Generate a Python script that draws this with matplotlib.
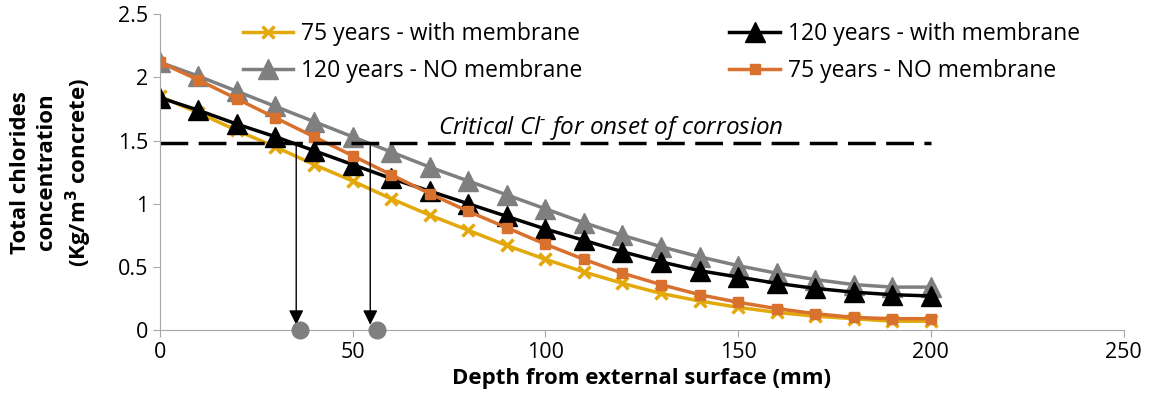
import matplotlib.pyplot as plt

depth = [0, 10, 20, 30, 40, 50, 60, 70, 80, 90, 100, 110, 120, 130, 140, 150, 160, 170, 180, 190, 200]

y75_membrane = [1.85, 1.72, 1.58, 1.45, 1.31, 1.18, 1.04, 0.91, 0.79, 0.67, 0.56, 0.46, 0.37, 0.29, 0.23,
                0.18, 0.14, 0.11, 0.09, 0.07, 0.07]
y120_membrane = [1.84, 1.74, 1.63, 1.53, 1.42, 1.31, 1.20, 1.10, 1.00, 0.90, 0.80, 0.71, 0.62, 0.54, 0.47,
                 0.42, 0.37, 0.33, 0.30, 0.28, 0.27]
y120_no = [2.12, 2.01, 1.89, 1.77, 1.65, 1.53, 1.41, 1.29, 1.18, 1.07, 0.96, 0.85, 0.75, 0.66, 0.58,
           0.51, 0.45, 0.40, 0.36, 0.34, 0.34]
y75_no = [2.12, 1.98, 1.83, 1.68, 1.53, 1.38, 1.23, 1.08, 0.94, 0.81, 0.68, 0.56, 0.45, 0.36, 0.28,
          0.22, 0.17, 0.13, 0.10, 0.09, 0.09]

critical = 1.48
onset_depths = [36.3, 56.4]
arrow_depths = [35.4, 54.6]

plt.rcParams['font.family'] = ['Open Sans', 'DejaVu Sans']
plt.rcParams['mathtext.fontset'] = 'custom'
plt.rcParams['mathtext.it'] = 'Open Sans:italic'
plt.rcParams['mathtext.rm'] = 'Open Sans'

fig, ax = plt.subplots(figsize=(11.49, 4.05), dpi=100)
fig.subplots_adjust(left=0.139, right=0.978, bottom=0.185, top=0.965)

l1, = ax.plot(depth, y75_membrane, color='#E3A90B', lw=2.5, marker='x', ms=9, mew=2.5,
              label='75 years - with membrane')
l3, = ax.plot(depth, y120_no, color='#7F7F7F', lw=2.5, marker='^', ms=14,
              label='120 years - NO membrane')
l2, = ax.plot(depth, y120_membrane, color='black', lw=2.5, marker='^', ms=14,
              label='120 years - with membrane')
l4, = ax.plot(depth, y75_no, color='#D8702E', lw=2.5, marker='s', ms=7,
              label='75 years - NO membrane')

# critical chloride threshold
ax.plot([depth[0], depth[-1]], [critical, critical], color='black', lw=2.5, ls=(0, (8, 3)))
ax.text(117, 1.60, 'Critical Cl$^{\\text{-}}$ for onset of corrosion', style='italic',
        fontsize=17.5, ha='center', va='center')

for xa in arrow_depths:
    ax.annotate('', xy=(xa, 0.02), xytext=(xa, critical),
                arrowprops=dict(arrowstyle='-|>', color='black', lw=1, mutation_scale=22))
ax.plot(onset_depths, [0, 0], 'o', color='#7F7F7F', ms=12, clip_on=False, zorder=5)

ax.set_xlim(0, 250)
ax.set_ylim(0, 2.5)
ax.set_xticks([0, 50, 100, 150, 200, 250])
ax.set_yticks([0, 0.5, 1, 1.5, 2, 2.5])
ax.set_yticklabels(['0', '0.5', '1', '1.5', '2', '2.5'])
ax.tick_params(labelsize=15.5, color='#A6A6A6', length=5)
for s in ['top', 'right']:
    ax.spines[s].set_visible(False)
for s in ['left', 'bottom']:
    ax.spines[s].set_color('#A6A6A6')

ax.set_xlabel('Depth from external surface (mm)', fontsize=16, fontweight='bold', labelpad=4)
ax.set_ylabel('Total chlorides\nconcentration\n(Kg/m$^{\\mathbf{3}}$ concrete)', fontsize=16,
              fontweight='bold', labelpad=17, linespacing=1.3)

ax.legend(handles=[l1, l3, l2, l4], ncol=2, loc='upper left', bbox_to_anchor=(0.065, 1.04),
          frameon=False, fontsize=16.5, columnspacing=6.4, handlelength=2.2,
          handletextpad=0.35, labelspacing=0.55)

fig.savefig('out.png')
